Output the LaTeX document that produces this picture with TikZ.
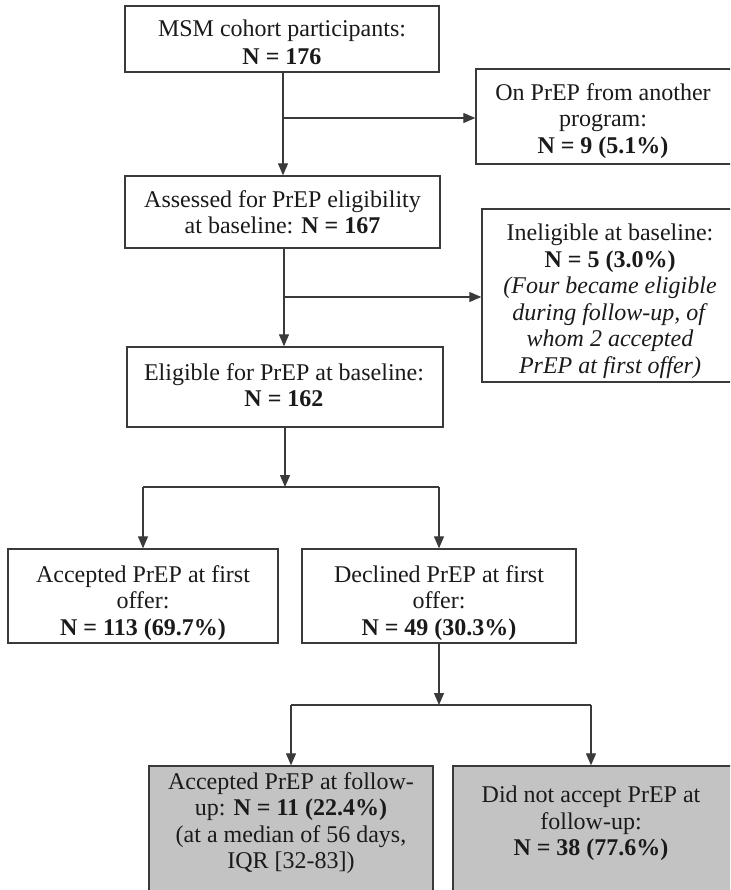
\documentclass[tikz,border=0pt]{standalone}
\usepackage{fontspec}
\setmainfont{Liberation Serif}
\usetikzlibrary{arrows.meta,calc}
\definecolor{linec}{HTML}{3A3A3A}
\definecolor{fillg}{HTML}{C3C3C3}
\definecolor{txtc}{HTML}{1A1A1A}
\tikzset{
  box/.style={draw=linec, line width=1.4pt, inner sep=0pt, fill=white},
  graybox/.style={box, fill=fillg},
  txt/.style={align=center, inner sep=0pt, anchor=north, text=txtc,
    font=\fontsize{24}{26.5}\selectfont},
  arr/.style={draw=linec, line width=1.3pt, -{Triangle[width=10pt,length=12pt]}},
  ln/.style={draw=linec, line width=1.3pt}
}
\begin{document}
\begin{tikzpicture}[x=1pt,y=-1pt]
\useasboundingbox (0,0) rectangle (730,890);
\clip (0,0) rectangle (730,890);
\fill[white] (0,0) rectangle (730,890);

% boxes
\node[box, minimum width=314pt, minimum height=66pt] (b1) at (282,39) {};
\node[box, minimum width=264pt, minimum height=95pt] (b3) at (608,116.5) {};
\node[box, minimum width=315pt, minimum height=72pt] (b2) at (282.5,212) {};
\node[box, minimum width=258pt, minimum height=173pt] (b4) at (611,295.5) {};
\node[box, minimum width=316pt, minimum height=80pt] (b5) at (285,387) {};
\node[box, minimum width=270pt, minimum height=94pt] (b6) at (143,596) {};
\node[box, minimum width=274pt, minimum height=94pt] (b7) at (439,596) {};
\node[graybox, minimum width=284pt, minimum height=144pt] (b8) at (291,838) {};
\node[graybox, minimum width=282pt, minimum height=144pt] (b9) at (594,838) {};

% texts
\node[txt] (t1) at (282,20) {MSM cohort participants:\\[1.5pt]\textbf{N = 176}};
\node[txt] (t3) at (603,83) {On PrEP from another\\program:\\\textbf{N = 9 (5.1\%)}};
\node[txt] (t2) at (282.5,190) {Assessed for PrEP eligibility\\at baseline: \textbf{N = 167}};
\node[txt] (t4) at (610,224) {Ineligible at baseline:\\\textbf{N = 5 (3.0\%)}\\\textit{(Four became eligible}\\\textit{during follow-up, of}\\\textit{whom 2 accepted}\\\textit{PrEP at first offer)}};
\node[txt] (t5) at (284,363) {Eligible for PrEP at baseline:\\\textbf{N = 162}};
\node[txt] (t6) at (143,565) {Accepted PrEP at first\\offer:\\\textbf{N = 113 (69.7\%)}};
\node[txt] (t7) at (439,565) {Declined PrEP at first\\offer:\\\textbf{N = 49 (30.3\%)}};
\node[txt] (t8) at (291,772) {Accepted PrEP at follow-\\up: \textbf{N = 11 (22.4\%)}\\(at a median of 56 days,\\IQR [32-83])};
\node[txt] (t9) at (591,786) {Did not accept PrEP at\\follow-up:\\\textbf{N = 38 (77.6\%)}};

% junctions
\coordinate (j1) at (283,118);
\coordinate (j2) at (284,297);
\coordinate (j3) at (285,487);
\coordinate (j4) at (439,705);
\coordinate (j4l) at (291,705);
\coordinate (j4r) at (591,705);

% connectors
\draw[arr] (b1.south -| j1) -- (b2.north -| j1);
\draw[arr] (j1) -- (j1 -| b3.west);
\draw[arr] (b2.south -| j2) -- (b5.north -| j2);
\draw[arr] (j2) -- (j2 -| b4.west);
\draw[arr] (b5.south -| j3) -- (j3);
\draw[ln] (b6.north |- j3) -- (b7.north |- j3);
\draw[arr] (b6.north |- j3) -- (b6.north);
\draw[arr] (b7.north |- j3) -- (b7.north);
\draw[arr] (b7.south) -- (j4);
\draw[ln] (j4l) -- (j4r);
\draw[arr] (j4l) -- (b8.north -| j4l);
\draw[arr] (j4r) -- (b9.north -| j4r);
\end{tikzpicture}
\end{document}
